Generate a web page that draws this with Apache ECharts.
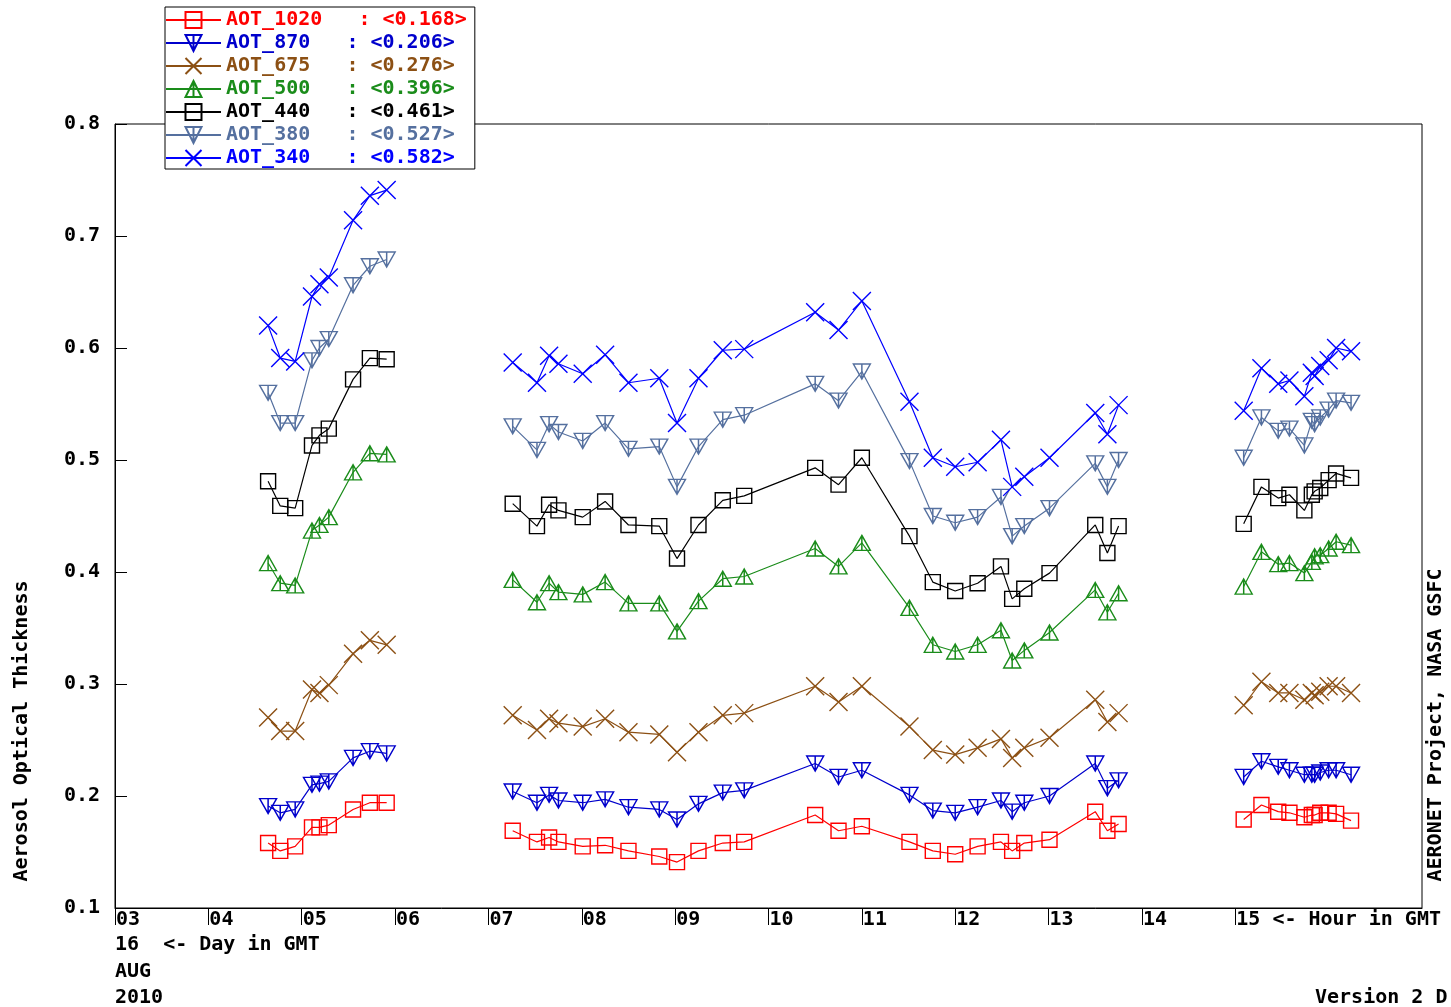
<!DOCTYPE html>
<html>
<head>
<meta charset="utf-8">
<script src="https://cdn.jsdelivr.net/npm/echarts@6/dist/echarts.min.js"></script>
<style>
  html, body { margin: 0; padding: 0; background: #fff; }
  #chart { width: 1451px; height: 1007px; }
</style>
</head>
<body>
<div id="chart"></div>
<script>
// Hour of day (GMT) for each observation, 16 Aug 2010
const hours = [
  4.64, 4.77, 4.93, 5.11, 5.19, 5.29, 5.55, 5.73, 5.91,
  7.26, 7.52, 7.65, 7.75, 8.01, 8.25, 8.50, 8.83, 9.02, 9.25, 9.51, 9.74, 10.50, 10.75, 11.00,
  11.51, 11.76, 12.00, 12.24, 12.49, 12.61, 12.74, 13.01, 13.50, 13.63, 13.75,
  15.09, 15.28, 15.46, 15.58, 15.74, 15.82, 15.85, 15.91, 16.00, 16.08, 16.24
];

// Aerosol optical thickness per wavelength
const aot1020 = [
  0.158, 0.151, 0.155, 0.172, 0.172, 0.174, 0.188, 0.194, 0.194,
  0.169, 0.159, 0.163, 0.159, 0.155, 0.156, 0.151, 0.146, 0.141, 0.151, 0.158, 0.159, 0.183, 0.169, 0.173,
  0.159, 0.151, 0.148, 0.155, 0.159, 0.151, 0.158, 0.161, 0.186, 0.169, 0.175,
  0.179, 0.192, 0.186, 0.185, 0.181, 0.183, 0.183, 0.185, 0.185, 0.184, 0.178
];
const aot870 = [
  0.191, 0.185, 0.188, 0.210, 0.211, 0.213, 0.234, 0.240, 0.238,
  0.204, 0.194, 0.201, 0.196, 0.194, 0.197, 0.190, 0.188, 0.179, 0.193, 0.203, 0.205, 0.229, 0.217, 0.223,
  0.201, 0.187, 0.185, 0.190, 0.196, 0.186, 0.194, 0.200, 0.229, 0.207, 0.214,
  0.217, 0.231, 0.226, 0.223, 0.219, 0.219, 0.219, 0.221, 0.223, 0.223, 0.219
];
const aot675 = [
  0.270, 0.258, 0.258, 0.295, 0.292, 0.299, 0.327, 0.339, 0.335,
  0.272, 0.259, 0.269, 0.265, 0.262, 0.269, 0.257, 0.255, 0.239, 0.257, 0.272, 0.274, 0.298, 0.284, 0.298,
  0.262, 0.241, 0.237, 0.243, 0.251, 0.234, 0.243, 0.252, 0.286, 0.266, 0.274,
  0.281, 0.302, 0.292, 0.292, 0.286, 0.292, 0.290, 0.293, 0.298, 0.298, 0.292
];
const aot500 = [
  0.408, 0.390, 0.388, 0.437, 0.442, 0.449, 0.489, 0.506, 0.505,
  0.393, 0.373, 0.390, 0.382, 0.380, 0.391, 0.372, 0.372, 0.347, 0.374, 0.394, 0.396, 0.421, 0.405, 0.426,
  0.368, 0.335, 0.329, 0.335, 0.348, 0.321, 0.330, 0.346, 0.384, 0.364, 0.381,
  0.387, 0.418, 0.407, 0.408, 0.399, 0.409, 0.414, 0.415, 0.421, 0.427, 0.424
];
const aot440 = [
  0.481, 0.459, 0.457, 0.513, 0.522, 0.528, 0.572, 0.591, 0.590,
  0.461, 0.441, 0.460, 0.455, 0.449, 0.463, 0.442, 0.441, 0.412, 0.442, 0.464, 0.468, 0.493, 0.478, 0.502,
  0.432, 0.391, 0.383, 0.390, 0.405, 0.376, 0.385, 0.399, 0.442, 0.417, 0.441,
  0.443, 0.476, 0.466, 0.469, 0.455, 0.469, 0.472, 0.475, 0.482, 0.488, 0.484
];
const aot380 = [
  0.560, 0.533, 0.533, 0.589, 0.600, 0.608, 0.656, 0.673, 0.679,
  0.530, 0.509, 0.532, 0.525, 0.517, 0.533, 0.510, 0.512, 0.476, 0.512, 0.536, 0.540, 0.568, 0.553, 0.579,
  0.499, 0.450, 0.444, 0.449, 0.467, 0.432, 0.441, 0.457, 0.497, 0.476, 0.500,
  0.502, 0.538, 0.526, 0.528, 0.513, 0.535, 0.532, 0.538, 0.545, 0.553, 0.551
];
const aot340 = [
  0.620, 0.591, 0.588, 0.646, 0.657, 0.663, 0.714, 0.736, 0.741,
  0.587, 0.569, 0.593, 0.586, 0.577, 0.594, 0.569, 0.573, 0.533, 0.573, 0.598, 0.599, 0.632, 0.616, 0.642,
  0.552, 0.502, 0.494, 0.498, 0.518, 0.476, 0.485, 0.502, 0.542, 0.523, 0.549,
  0.544, 0.582, 0.568, 0.571, 0.557, 0.578, 0.575, 0.584, 0.589, 0.600, 0.597
];

// Legend entries (top to bottom) with their daily means
const seriesNames = ['AOT_1020', 'AOT_870', 'AOT_675', 'AOT_500', 'AOT_440', 'AOT_380', 'AOT_340'];
const seriesMeans = ['0.168', '0.206', '0.276', '0.396', '0.461', '0.527', '0.582'];
const seriesValues = [aot1020, aot870, aot675, aot500, aot440, aot380, aot340];
const seriesColors = ['#ff0000', '#0000cc', '#8c5014', '#1a8c1a', '#000000', '#55709f', '#0000ff'];

// Axis tick labels
const yTicks = [0.1, 0.2, 0.3, 0.4, 0.5, 0.6, 0.7, 0.8];
const hourLabels = ['03', '04', '05', '06', '07', '08', '09', '10', '11', '12', '13', '14', '15 <- Hour in GMT'];

const FONT = '"DejaVu Sans Mono", "Liberation Mono", monospace';

// Marker shapes
const SYM_X = 'path://M0,0L20,20M20,0L0,20';
const SYM_DOWN = 'path://M0,0L20,0L10,18ZM10,0L10,18';
const SYM_UP = 'path://M10,0L20,18L0,18ZM10,0L10,18';
const seriesSymbols = [
  { symbol: 'rect', size: [15, 15] },
  { symbol: SYM_DOWN, size: [17, 15] },
  { symbol: SYM_X, size: [18, 18] },
  { symbol: SYM_UP, size: [17, 15] },
  { symbol: 'rect', size: [15, 15] },
  { symbol: SYM_DOWN, size: [17, 15] },
  { symbol: SYM_X, size: [18, 18] }
];

// Pair hours with values; break the line where observations pause for over an hour
function buildData(values) {
  const out = [];
  for (let i = 0; i < hours.length; i++) {
    if (i > 0 && hours[i] - hours[i - 1] > 1) out.push(['-', '-']);
    out.push([hours[i], values[i]]);
  }
  return out;
}

const series = seriesNames.map((name, i) => ({
  name: name,
  type: 'line',
  data: buildData(seriesValues[i]),
  symbol: seriesSymbols[i].symbol,
  symbolSize: seriesSymbols[i].size,
  showAllSymbol: true,
  connectNulls: false,
  animation: false,
  lineStyle: { color: seriesColors[i], width: 1.2 },
  itemStyle: { color: 'rgba(0,0,0,0)', borderColor: seriesColors[i], borderWidth: 1.4 },
  emphasis: { disabled: true }
}));

const chart = echarts.init(document.getElementById('chart'), null, { renderer: 'canvas' });

chart.setOption({
  backgroundColor: '#ffffff',
  animation: false,
  grid: {
    left: 115, right: 29, top: 124, bottom: 99,
    show: true, borderColor: '#000', borderWidth: 1, backgroundColor: 'transparent'
  },
  legend: {
    orient: 'vertical',
    left: 165, top: 7,
    padding: [3, 8, 1, 0],
    itemWidth: 55,
    itemHeight: 20,
    itemGap: 3,
    backgroundColor: '#fff',
    borderColor: '#000',
    borderWidth: 1,
    selectedMode: false,
    data: seriesNames.map((n, i) => ({ name: n, textStyle: { color: seriesColors[i] } })),
    formatter: function (name) {
      const i = seriesNames.indexOf(name);
      return name + '   : <' + seriesMeans[i] + '>';
    },
    textStyle: { fontFamily: FONT, fontWeight: 'bold', fontSize: 20 }
  },
  xAxis: {
    type: 'value',
    min: 3, max: 17, interval: 1,
    axisLine: { show: true, lineStyle: { color: '#000', width: 1 } },
    axisTick: { show: true, inside: false, length: 17, lineStyle: { color: '#000' },
      customValues: hourLabels.map((_, i) => 3 + i) },
    splitLine: { show: false },
    axisLabel: {
      margin: 2,
      align: 'left',
      padding: [0, 0, 0, 1],
      color: '#000',
      fontFamily: FONT, fontWeight: 'bold', fontSize: 20,
      customValues: hourLabels.map((_, i) => 3 + i),
      formatter: function (v) { return hourLabels[Math.round(v) - 3] || ''; }
    }
  },
  yAxis: {
    type: 'value',
    min: 0.1, max: 0.8, interval: 0.1,
    axisLine: { show: true, lineStyle: { color: '#000', width: 1 } },
    axisTick: { show: true, inside: true, length: 12, lineStyle: { color: '#000' },
      customValues: yTicks },
    splitLine: { show: false },
    axisLabel: {
      margin: 15,
      color: '#000',
      fontFamily: FONT, fontWeight: 'bold', fontSize: 20,
      customValues: yTicks,
      formatter: function (v) { return v.toFixed(1); }
    }
  },
  graphic: [
    {
      type: 'text', x: 22, y: 731, rotation: Math.PI / 2, silent: true,
      style: { text: 'Aerosol Optical Thickness', fill: '#000', align: 'center', verticalAlign: 'middle',
        font: 'bold 20px ' + FONT }
    },
    {
      type: 'text', x: 1436, y: 725, rotation: Math.PI / 2, silent: true,
      style: { text: 'AERONET Project, NASA GSFC', fill: '#000', align: 'center', verticalAlign: 'middle',
        font: 'bold 20px ' + FONT }
    },
    {
      type: 'text', x: 115, y: 945, silent: true,
      style: { text: '16  <- Day in GMT', fill: '#000', align: 'left', verticalAlign: 'middle', font: 'bold 20px ' + FONT }
    },
    {
      type: 'text', x: 115, y: 972, silent: true,
      style: { text: 'AUG', fill: '#000', align: 'left', verticalAlign: 'middle', font: 'bold 20px ' + FONT }
    },
    {
      type: 'text', x: 115, y: 998, silent: true,
      style: { text: '2010', fill: '#000', align: 'left', verticalAlign: 'middle', font: 'bold 20px ' + FONT }
    },
    {
      type: 'text', x: 1315, y: 998, silent: true,
      style: { text: 'Version 2 D', fill: '#000', align: 'left', verticalAlign: 'middle', font: 'bold 20px ' + FONT }
    }
  ],
  series: series
});
</script>
</body>
</html>
